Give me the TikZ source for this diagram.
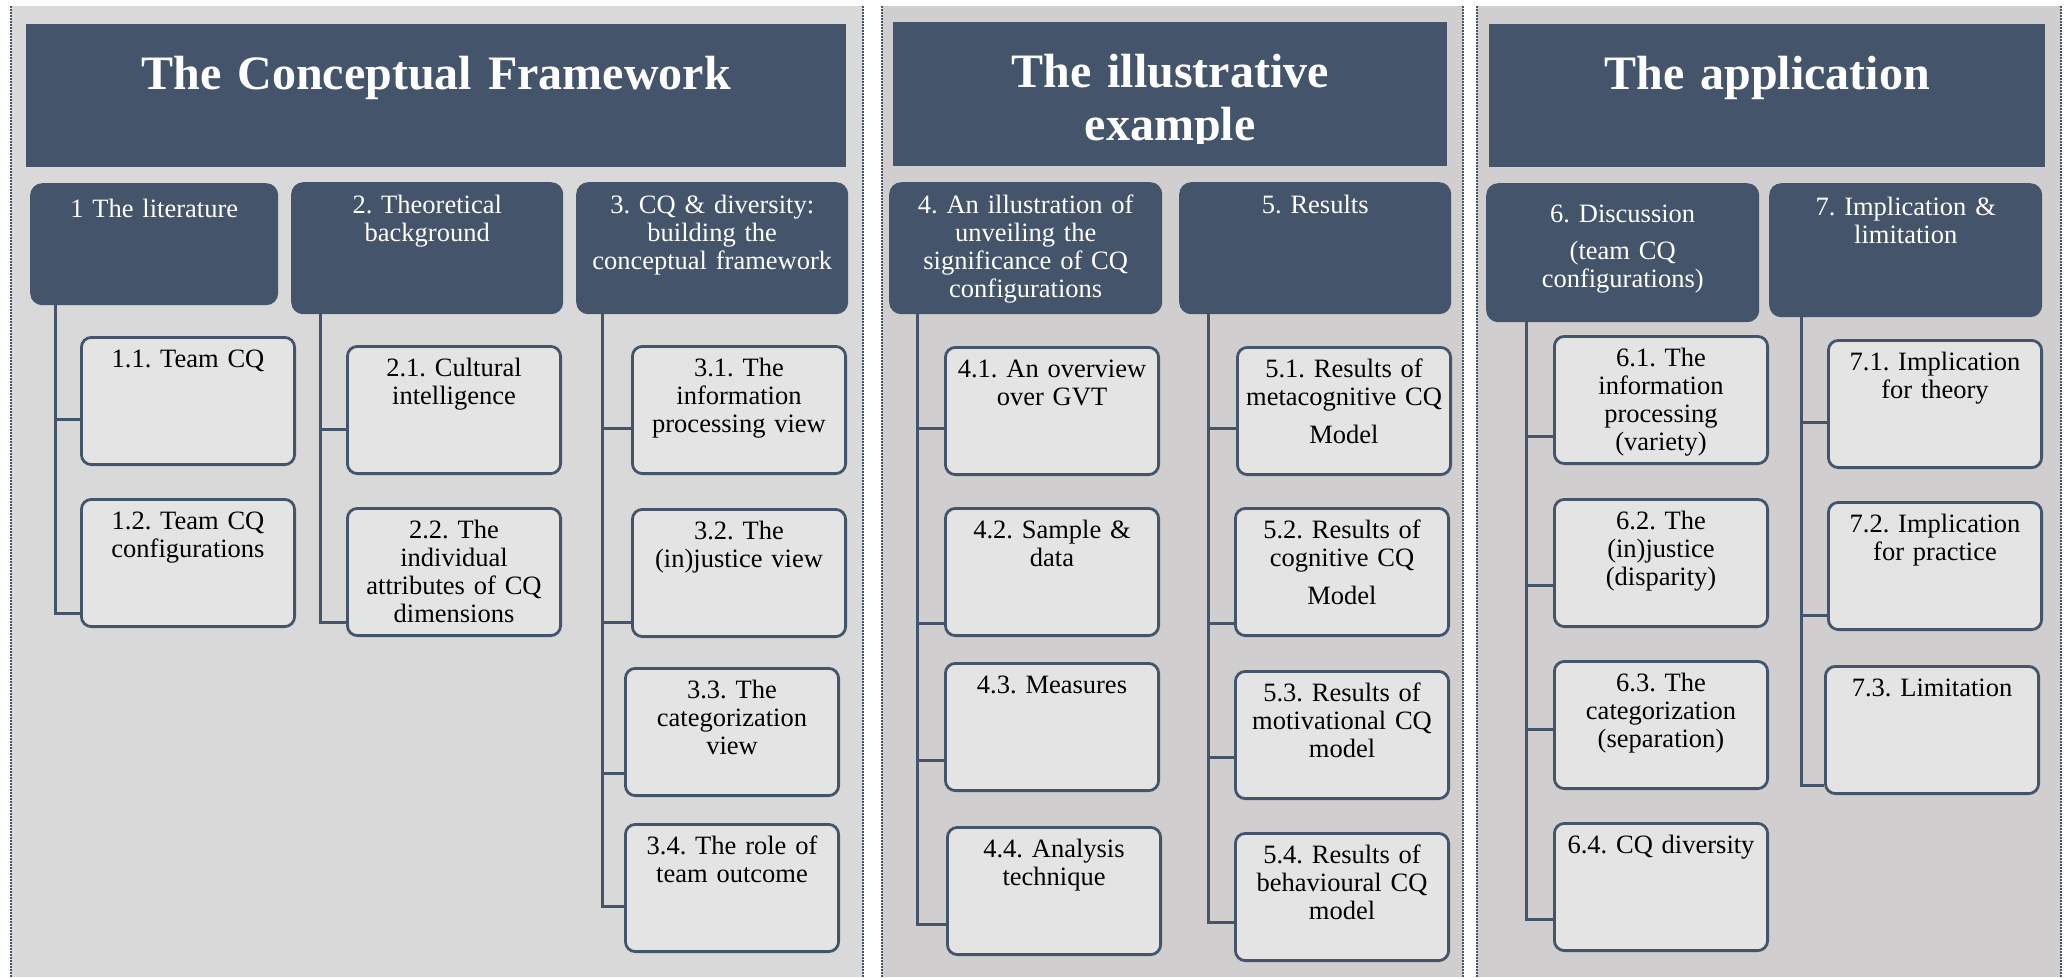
\documentclass[tikz,border=0pt]{standalone}
\usepackage{fontspec}
\setmainfont{Liberation Serif}
\usetikzlibrary{positioning}
\frenchspacing
\definecolor{slate}{HTML}{44546A}
\definecolor{panelA}{HTML}{D9D9D9}
\definecolor{panelB}{HTML}{D0CECE}
\definecolor{boxfill}{HTML}{E4E4E4}
\newcommand{\cqtitlefont}{\fontsize{48}{53}\selectfont\bfseries}
\newcommand{\cqboxfont}{\fontsize{26.5}{28}\selectfont}
\tikzstyle{titlebox} = [rectangle, fill=slate, text=white, anchor=north west, inner sep=0pt, align=center, font=\cqtitlefont, text height=65pt]
\tikzstyle{header} = [rectangle, rounded corners=12pt, fill=slate, text=white, anchor=north west, inner xsep=6pt, inner ysep=0pt, align=center, font=\cqboxfont]
\tikzstyle{topic} = [rectangle, draw=slate, line width=2.8pt, rounded corners=10pt, fill=boxfill, text=black, align=center, text width=200pt, inner xsep=6.6pt, inner ysep=0pt, text height=29.6pt, text depth=97.6pt, font=\cqboxfont]
\tikzstyle{trunk} = [draw=slate, line width=3pt]
\tikzstyle{panelline} = [draw=slate, line width=1.5pt, dash pattern=on 1.5pt off 1.5pt]

\begin{document}
\begin{tikzpicture}[x=1pt,y=-1pt]
    \useasboundingbox (0,0) rectangle (2069,977);

    % panels
    \fill[panelA] (11,6) rectangle (863,977);
    \fill[panelB] (882,6) rectangle (1463,977);
    \fill[panelB] (1477,6) rectangle (2061,977);
    \draw[panelline] (11,6) -- (11,977);
    \draw[panelline] (863,6) -- (863,977);
    \draw[panelline] (882,6) -- (882,977);
    \draw[panelline] (1463,6) -- (1463,977);
    \draw[panelline] (1477,6) -- (1477,977);
    \draw[panelline] (2061,6) -- (2061,977);

    % titles
    \node [titlebox, text width=820pt, text depth=78pt] (t1) at (26,24) {The Conceptual Framework};
    \node [titlebox, minimum width=554pt, minimum height=144pt] (t2) at (893,22) {};
    \begin{scope}
      \clip (t2.north west) rectangle ([yshift=23pt]t2.south east);
      \node [titlebox, fill=none, anchor=north, text width=554pt] (t2text) at (t2.north) {The illustrative\\example};
    \end{scope}
    \node [titlebox, text width=556pt, text depth=78pt] (t3) at (1489,24) {The application};

    % section headers
    \node [header, text width=236pt, text height=34pt, text depth=88pt] (h1) at (30,183) {1 The literature};
    \node [header, text width=260pt, text height=31pt, text depth=101pt] (h2) at (291,182) {2. Theoretical\\background};
    \node [header, text width=260pt, text height=31pt, text depth=101pt] (h3) at (576,182) {3. CQ \& diversity:\\building the\\conceptual framework};
    \node [header, text width=261pt, text height=31pt, text depth=101pt] (h4) at (889,182) {4. An illustration of\\unveiling the\\significance of CQ\\configurations};
    \node [header, text width=260pt, text height=31pt, text depth=101pt] (h5) at (1179,182) {5. Results};
    \node [header, text width=261pt, text height=39pt, text depth=100pt] (h6) at (1486,183) {6. Discussion\\[9pt](team CQ\\configurations)};
    \node [header, text width=261pt, text height=32pt, text depth=102pt] (h7) at (1769,183) {7. Implication \&\\limitation};

    % sub-sections
    \node [topic, anchor=north west] (b11) at (80,336) {1.1. Team CQ};
    \node [topic, below=32pt of b11] (b12) {1.2. Team CQ\\configurations};

    \node [topic, anchor=north west] (b21) at (346,345) {2.1. Cultural\\intelligence};
    \node [topic, below=32pt of b21] (b22) {2.2. The\\individual\\attributes of CQ\\dimensions};

    \node [topic, anchor=north west] (b31) at (631,345) {3.1. The\\information\\processing view};
    \node [topic, below=33pt of b31] (b32) {3.2. The\\(in)justice view};
    \node [topic, below=29pt of b32, xshift=-7pt] (b33) {3.3. The\\categorization\\view};
    \node [topic, below=26pt of b33] (b34) {3.4. The role of\\team outcome};

    \node [topic, anchor=north west] (b41) at (944,346) {4.1. An overview\\over GVT};
    \node [topic, below=31pt of b41] (b42) {4.2. Sample \&\\data};
    \node [topic, below=25pt of b42] (b43) {4.3. Measures};
    \node [topic, below=34pt of b43, xshift=2pt] (b44) {4.4. Analysis\\technique};

    \node [topic, anchor=north west] (b51) at (1236,346) {5.1. Results of\\metacognitive CQ\\[10pt]Model};
    \node [topic, below=31pt of b51, xshift=-2pt] (b52) {5.2. Results of\\cognitive CQ\\[10pt]Model};
    \node [topic, below=33pt of b52] (b53) {5.3. Results of\\motivational CQ\\model};
    \node [topic, below=32pt of b53] (b54) {5.4. Results of\\behavioural CQ\\model};

    \node [topic, anchor=north west] (b61) at (1553,335) {6.1. The\\information\\processing\\(variety)};
    \node [topic, below=33pt of b61] (b62) {6.2. The\\(in)justice\\(disparity)};
    \node [topic, below=32pt of b62] (b63) {6.3. The\\categorization\\(separation)};
    \node [topic, below=32pt of b63] (b64) {6.4. CQ diversity};

    \node [topic, anchor=north west] (b71) at (1827,339) {7.1. Implication\\for theory};
    \node [topic, below=32pt of b71] (b72) {7.2. Implication\\for practice};
    \node [topic, below=34pt of b72, xshift=-3pt] (b73) {7.3. Limitation};

    % tree lines
    \draw[trunk] ([xshift=25pt]h1.south west) |- ([yshift=-83pt]b11.north west);
    \draw[trunk] ([xshift=25pt]h1.south west) |- ([yshift=-115pt]b12.north west);

    \draw[trunk] ([xshift=29pt]h2.south west) |- ([yshift=-84pt]b21.north west);
    \draw[trunk] ([xshift=29pt]h2.south west) |- ([yshift=-115pt]b22.north west);

    \draw[trunk] ([xshift=26pt]h3.south west) |- ([yshift=-83pt]b31.north west);
    \draw[trunk] ([xshift=26pt]h3.south west) |- ([yshift=-114pt]b32.north west);
    \draw[trunk] ([xshift=26pt]h3.south west) |- ([yshift=-106pt]b33.north west);
    \draw[trunk] ([xshift=26pt]h3.south west) |- ([yshift=-83pt]b34.north west);

    \draw[trunk] ([xshift=28pt]h4.south west) |- ([yshift=-82pt]b41.north west);
    \draw[trunk] ([xshift=28pt]h4.south west) |- ([yshift=-116pt]b42.north west);
    \draw[trunk] ([xshift=28pt]h4.south west) |- ([yshift=-98pt]b43.north west);
    \draw[trunk] ([xshift=28pt]h4.south west) |- ([yshift=-98pt]b44.north west);

    \draw[trunk] ([xshift=29pt]h5.south west) |- ([yshift=-82pt]b51.north west);
    \draw[trunk] ([xshift=29pt]h5.south west) |- ([yshift=-116pt]b52.north west);
    \draw[trunk] ([xshift=29pt]h5.south west) |- ([yshift=-87pt]b53.north west);
    \draw[trunk] ([xshift=29pt]h5.south west) |- ([yshift=-90pt]b54.north west);

    \draw[trunk] ([xshift=40pt]h6.south west) |- ([yshift=-101pt]b61.north west);
    \draw[trunk] ([xshift=40pt]h6.south west) |- ([yshift=-87pt]b62.north west);
    \draw[trunk] ([xshift=40pt]h6.south west) |- ([yshift=-69pt]b63.north west);
    \draw[trunk] ([xshift=40pt]h6.south west) |- ([yshift=-97pt]b64.north west);

    \draw[trunk] ([xshift=32pt]h7.south west) |- ([yshift=-83pt]b71.north west);
    \draw[trunk] ([xshift=32pt]h7.south west) |- ([yshift=-114pt]b72.north west);
    \draw[trunk] ([xshift=32pt]h7.south west) |- ([yshift=-120pt]b73.north west);
\end{tikzpicture}
\end{document}
